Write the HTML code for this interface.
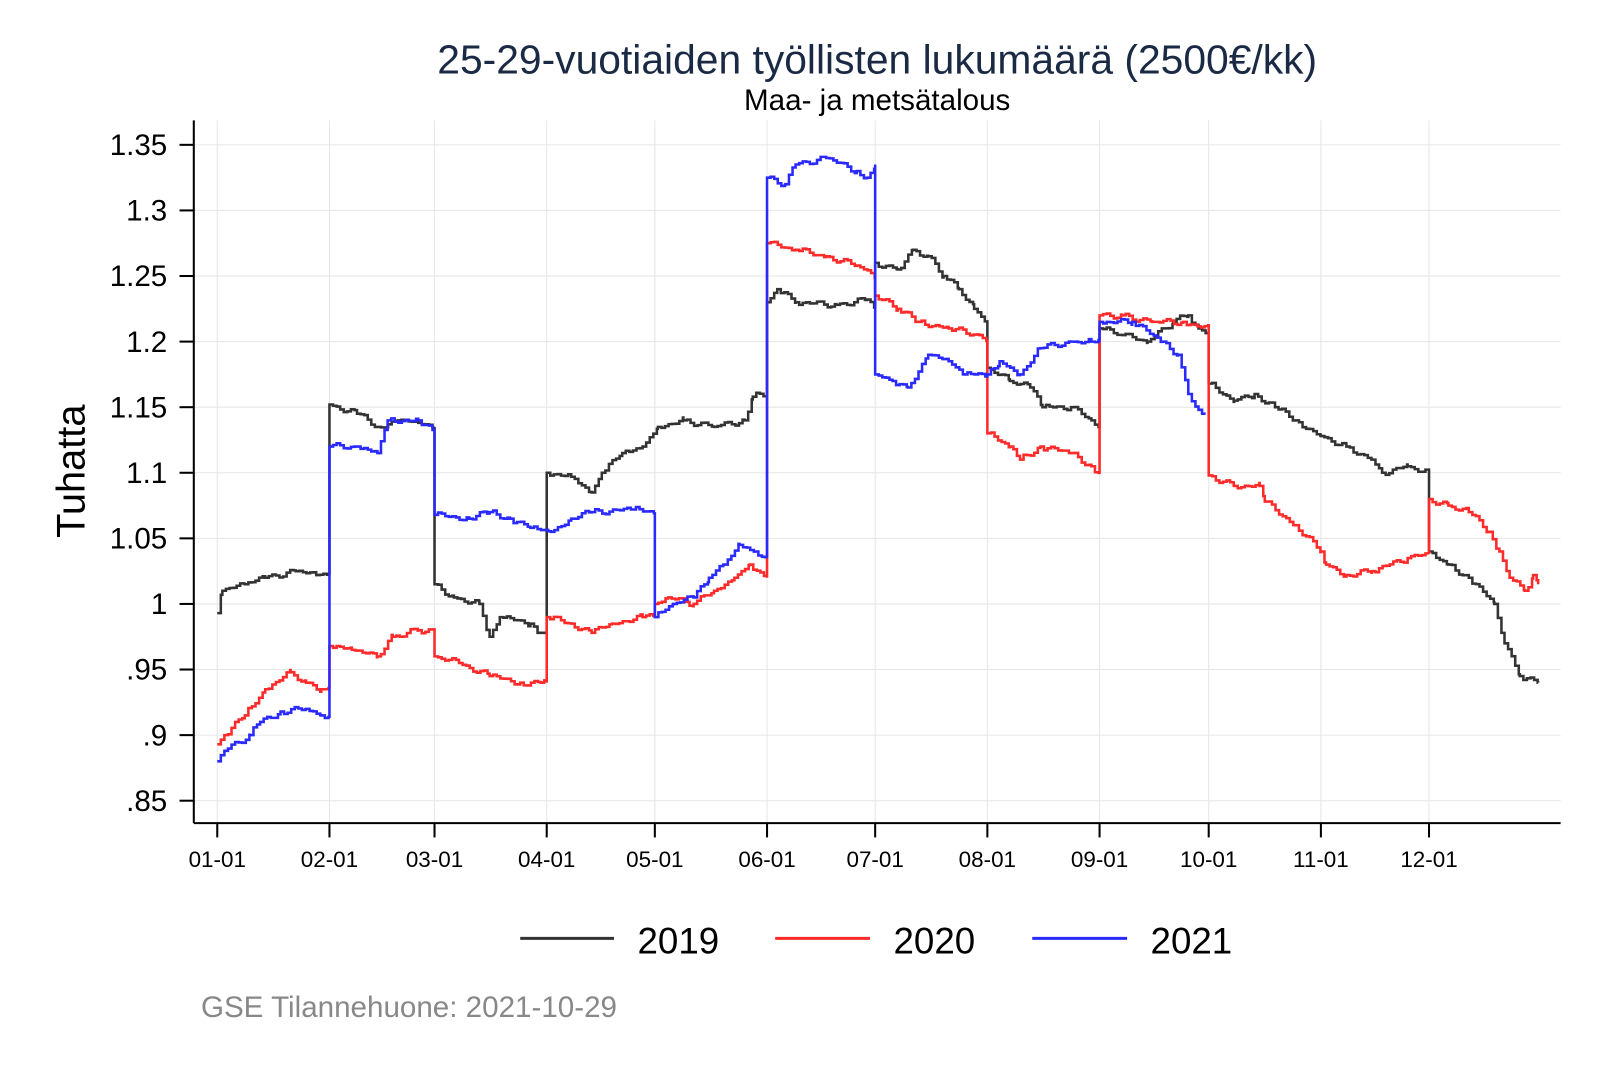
<!DOCTYPE html>
<html><head><meta charset="utf-8"><style>
body{margin:0;background:#fff;}
svg text{font-family:"Liberation Sans",Arial,sans-serif;}
</style></head><body>
<svg id="s" width="1600" height="1067" viewBox="0 0 1600 1067" xmlns="http://www.w3.org/2000/svg">
<rect width="1600" height="1067" fill="#fff"/>
<g transform="scale(1.02)">
<text x="860" y="72" font-size="40" text-anchor="middle" fill="#1a2a44">25-29-vuotiaiden työllisten lukumäärä (2500€/kk)</text>
<text x="860" y="108" font-size="29" text-anchor="middle" fill="#000">Maa- ja metsätalous</text>
<g id="grid" stroke="#e6e6e6" stroke-width="1"></g>
<g id="ticks" font-size="29" fill="#000"></g>
<line x1="190" y1="118" x2="190" y2="807" stroke="#000" stroke-width="2"/>
<line x1="190" y1="807" x2="1530" y2="807" stroke="#000" stroke-width="2"/>
<g id="lines" fill="none" stroke-width="2.5"></g>
<text transform="translate(83,462) rotate(-90)" font-size="39" text-anchor="middle">Tuhatta</text>
<line x1="510" y1="920" x2="602" y2="920" stroke="#333" stroke-width="3"/>
<text x="625" y="935" font-size="36">2019</text>
<line x1="760" y1="920" x2="853" y2="920" stroke="#ff2a2a" stroke-width="3"/>
<text x="876" y="935" font-size="36">2020</text>
<line x1="1012" y1="920" x2="1105" y2="920" stroke="#2a2aff" stroke-width="3"/>
<text x="1128" y="935" font-size="36">2021</text>
<text x="197" y="997" font-size="29" fill="#888">GSE Tilannehuone: 2021-10-29</text>
</g>
</svg>
<script>
var NS="http://www.w3.org/2000/svg";
function Y(v){return 142+(1.35-v)*1286;}
var g=document.getElementById('grid'),t=document.getElementById('ticks');
function el(p,n,a,txt){var e=document.createElementNS(NS,n);for(var k in a)e.setAttribute(k,a[k]);if(txt)e.textContent=txt;p.appendChild(e);return e;}
var yl=[[1.35,"1.35"],[1.3,"1.3"],[1.25,"1.25"],[1.2,"1.2"],[1.15,"1.15"],[1.1,"1.1"],[1.05,"1.05"],[1,"1"],[.95,".95"],[.9,".9"],[.85,".85"]];
yl.forEach(function(a){var y=Y(a[0]);el(g,'line',{x1:190,x2:1530,y1:y,y2:y});
el(t,'line',{x1:176,x2:190,y1:y,y2:y,stroke:'#000','stroke-width':2});
el(t,'text',{x:164,y:y+10,'text-anchor':'end'},a[1]);});
var xs=[213,323,426,536,642,752,858,968,1078,1185,1295,1401];
xs.forEach(function(x,i){el(g,'line',{x1:x,x2:x,y1:118,y2:807});
el(t,'line',{x1:x,x2:x,y1:807,y2:821,stroke:'#000','stroke-width':2});
var m=(i+1<10?'0':'')+(i+1);el(t,'text',{x:x,y:850,'text-anchor':'middle','font-size':22},m+'-01');});
var d19=[[213,.993],[218,1.01],[240,1.015],[260,1.02],[290,1.025],[310,1.022],[323,1.022],[323,1.152],[350,1.145],[370,1.135],[390,1.14],[410,1.138],[426,1.135],[426,1.015],[445,1.005],[470,1.0],[480,.975],[490,.99],[520,.985],[530,.978],[536,.978],[536,1.1],[560,1.097],[580,1.085],[590,1.1],[610,1.115],[630,1.12],[645,1.135],[670,1.14],[700,1.135],[730,1.14],[738,1.158],[752,1.16],[752,1.23],[762,1.24],[780,1.23],[820,1.228],[850,1.232],[858,1.225],[858,1.26],[880,1.255],[895,1.27],[910,1.265],[925,1.25],[940,1.24],[955,1.225],[968,1.215],[968,1.18],[990,1.17],[1010,1.165],[1022,1.15],[1050,1.15],[1070,1.14],[1078,1.135],[1078,1.21],[1100,1.205],[1125,1.2],[1150,1.215],[1165,1.22],[1175,1.21],[1185,1.205],[1185,1.168],[1210,1.155],[1230,1.16],[1250,1.15],[1270,1.14],[1295,1.128],[1320,1.12],[1345,1.11],[1355,1.1],[1380,1.105],[1401,1.1],[1401,1.04],[1420,1.03],[1440,1.02],[1465,1.0],[1475,.97],[1490,.945],[1508,.94]];
var d20=[[213,.893],[220,.9],[240,.915],[260,.935],[285,.948],[300,.94],[315,.935],[323,.935],[323,.968],[345,.965],[370,.96],[385,.975],[410,.98],[426,.98],[426,.96],[450,.955],[480,.945],[510,.94],[530,.94],[536,.94],[536,.99],[560,.985],[580,.978],[600,.985],[630,.99],[642,.99],[642,1.0],[655,1.005],[680,1.0],[700,1.01],[720,1.02],[735,1.03],[752,1.02],[752,1.275],[780,1.27],[810,1.265],[840,1.258],[858,1.25],[858,1.235],[880,1.225],[900,1.215],[930,1.21],[960,1.205],[968,1.2],[968,1.13],[990,1.12],[1000,1.11],[1020,1.12],[1050,1.115],[1070,1.105],[1078,1.1],[1078,1.22],[1100,1.22],[1130,1.215],[1160,1.215],[1185,1.21],[1185,1.098],[1210,1.09],[1235,1.09],[1240,1.078],[1270,1.06],[1295,1.04],[1300,1.03],[1320,1.022],[1345,1.025],[1380,1.035],[1401,1.038],[1401,1.08],[1420,1.075],[1440,1.07],[1460,1.055],[1470,1.04],[1480,1.02],[1495,1.01],[1503,1.022],[1508,1.015]];
var d21=[[213,.88],[220,.888],[245,.9],[255,.91],[275,.918],[300,.92],[315,.915],[323,.915],[323,1.12],[350,1.12],[370,1.115],[380,1.14],[410,1.14],[426,1.13],[426,1.068],[460,1.065],[480,1.07],[500,1.065],[520,1.058],[540,1.055],[560,1.065],[580,1.07],[620,1.072],[642,1.07],[642,.99],[660,1.0],[680,1.005],[695,1.02],[710,1.03],[725,1.045],[740,1.04],[752,1.035],[752,1.325],[770,1.32],[780,1.335],[810,1.34],[840,1.33],[850,1.325],[858,1.335],[858,1.175],[875,1.17],[890,1.165],[910,1.19],[930,1.185],[945,1.175],[968,1.175],[980,1.185],[1000,1.175],[1020,1.195],[1050,1.2],[1070,1.2],[1078,1.2],[1078,1.215],[1110,1.215],[1140,1.2],[1155,1.19],[1165,1.16],[1175,1.148],[1182,1.145]];
var L=document.getElementById('lines');
function draw(d,col,seed){var p="M"+d[0][0]+" "+Y(d[0][1]).toFixed(1);var cy=Y(d[0][1]);
for(var i=1;i<d.length;i++){var a=d[i-1],b=d[i];
if(b[0]===a[0]){cy=Y(b[1]);p+="V"+cy.toFixed(1);continue;}
for(var x=a[0]+3.5;x<b[0];x+=3.5){var f=(x-a[0])/(b[0]-a[0]);var v=a[1]+(b[1]-a[1])*f+0.0025*Math.sin(x*1.7+seed)*Math.sin(x*0.31+seed);
p+="H"+x.toFixed(1);cy=Y(v);p+="V"+cy.toFixed(1);}
p+="H"+b[0];cy=Y(b[1]);p+="V"+cy.toFixed(1);}
el(L,'path',{d:p,stroke:col});}
draw(d19,'#333',1);draw(d20,'#ff2a2a',2);draw(d21,'#2a2aff',3);
</script>
</body></html>
